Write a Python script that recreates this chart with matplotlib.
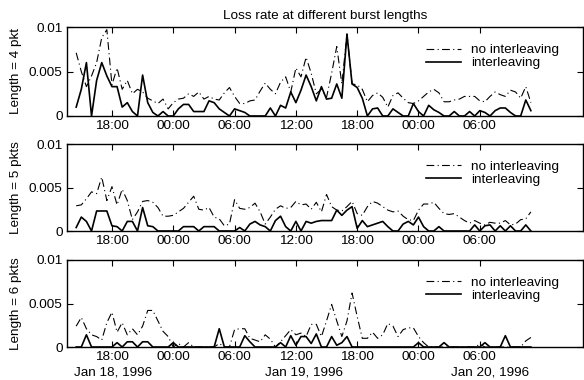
import numpy as np
import matplotlib
matplotlib.use("Agg")
import matplotlib.pyplot as plt

plt.rcParams['font.family'] = ['Liberation Sans', 'DejaVu Sans']

# sample times: hours since Jan 18, 1996 00:00 (half-hour samples)
hours = np.arange(14.5, 59.01, 0.5)

tick_hours = [18, 24, 30, 36, 42, 48, 54]
tick_labels = ["18:00", "00:00", "06:00", "12:00", "18:00", "00:00", "06:00"]
date_hours = [18.1, 36.8, 55.0]
date_labels = ["Jan 18, 1996", "Jan 19, 1996", "Jan 20, 1996"]

panel_labels = ["Length = 4 pkt", "Length = 5 pkts", "Length = 6 pkts"]
series_names = ["no interleaving", "interleaving"]

no_inter_4 = [0.0071, 0.0050, 0.0033, 0.0045, 0.0060, 0.0088, 0.0097, 0.0035, 0.0054, 0.0030,
              0.0040, 0.0025, 0.0030, 0.0027, 0.0020, 0.0017, 0.0014, 0.0019, 0.0008, 0.0015,
              0.0019, 0.0020, 0.0025, 0.0022, 0.0027, 0.0019, 0.0022, 0.0019, 0.0018, 0.0026,
              0.0032, 0.0022, 0.0014, 0.0014, 0.0017, 0.0018, 0.0028, 0.0037, 0.0030, 0.0025,
              0.0038, 0.0044, 0.0027, 0.0054, 0.0044, 0.0066, 0.0048, 0.0025, 0.0030, 0.0021,
              0.0048, 0.0078, 0.0036, 0.0092, 0.0036, 0.0035, 0.0030, 0.0016, 0.0023, 0.0026,
              0.0021, 0.0010, 0.0023, 0.0026, 0.0020, 0.0015, 0.0014, 0.0017, 0.0022, 0.0027,
              0.0030, 0.0026, 0.0016, 0.0016, 0.0018, 0.0019, 0.0022, 0.0022, 0.0022, 0.0017,
              0.0016, 0.0022, 0.0027, 0.0024, 0.0022, 0.0029, 0.0027, 0.0020, 0.0033, 0.0015]
inter_4 = [0.0010, 0.0030, 0.0060, 0.0000, 0.0040, 0.0060, 0.0045, 0.0033, 0.0033, 0.0010,
           0.0015, 0.0005, 0.0000, 0.0046, 0.0015, 0.0004, 0.0000, 0.0005, 0.0000, 0.0000,
           0.0008, 0.0013, 0.0013, 0.0005, 0.0005, 0.0005, 0.0017, 0.0015, 0.0008, 0.0004,
           0.0000, 0.0008, 0.0006, 0.0004, 0.0000, 0.0000, 0.0000, 0.0000, 0.0009, 0.0000,
           0.0012, 0.0009, 0.0027, 0.0015, 0.0029, 0.0046, 0.0033, 0.0017, 0.0033, 0.0019,
           0.0020, 0.0036, 0.0020, 0.0092, 0.0036, 0.0032, 0.0020, 0.0000, 0.0008, 0.0009,
           0.0000, 0.0000, 0.0008, 0.0004, 0.0000, 0.0000, 0.0014, 0.0005, 0.0000, 0.0012,
           0.0007, 0.0004, 0.0000, 0.0000, 0.0005, 0.0000, 0.0000, 0.0005, 0.0000, 0.0006,
           0.0004, 0.0000, 0.0006, 0.0009, 0.0009, 0.0004, 0.0000, 0.0000, 0.0018, 0.0006]

no_inter_5 = [0.0029, 0.0030, 0.0037, 0.0045, 0.0043, 0.0062, 0.0035, 0.0051, 0.0030, 0.0048,
              0.0035, 0.0013, 0.0022, 0.0034, 0.0035, 0.0033, 0.0027, 0.0017, 0.0017, 0.0018,
              0.0022, 0.0026, 0.0033, 0.0040, 0.0025, 0.0024, 0.0027, 0.0016, 0.0014, 0.0006,
              0.0008, 0.0036, 0.0026, 0.0025, 0.0027, 0.0032, 0.0022, 0.0008, 0.0016, 0.0025,
              0.0029, 0.0026, 0.0027, 0.0034, 0.0030, 0.0031, 0.0025, 0.0033, 0.0022, 0.0042,
              0.0028, 0.0024, 0.0023, 0.0028, 0.0034, 0.0020, 0.0018, 0.0028, 0.0034, 0.0032,
              0.0028, 0.0024, 0.0022, 0.0023, 0.0017, 0.0013, 0.0012, 0.0024, 0.0031, 0.0031,
              0.0033, 0.0026, 0.0020, 0.0019, 0.0020, 0.0016, 0.0012, 0.0009, 0.0012, 0.0009,
              0.0007, 0.0010, 0.0009, 0.0009, 0.0012, 0.0007, 0.0008, 0.0013, 0.0014, 0.0022]
inter_5 = [0.0004, 0.0016, 0.0011, 0.0000, 0.0023, 0.0023, 0.0023, 0.0006, 0.0005, 0.0000,
           0.0011, 0.0011, 0.0000, 0.0027, 0.0006, 0.0005, 0.0000, 0.0000, 0.0000, 0.0000,
           0.0000, 0.0005, 0.0005, 0.0005, 0.0000, 0.0005, 0.0005, 0.0005, 0.0000, 0.0000,
           0.0000, 0.0000, 0.0004, 0.0000, 0.0008, 0.0011, 0.0007, 0.0005, 0.0000, 0.0012,
           0.0017, 0.0005, 0.0000, 0.0011, 0.0000, 0.0011, 0.0009, 0.0011, 0.0012, 0.0012,
           0.0012, 0.0024, 0.0018, 0.0024, 0.0028, 0.0003, 0.0012, 0.0005, 0.0007, 0.0009,
           0.0011, 0.0005, 0.0000, 0.0000, 0.0008, 0.0011, 0.0007, 0.0016, 0.0005, 0.0000,
           0.0000, 0.0005, 0.0000, 0.0000, 0.0000, 0.0000, 0.0000, 0.0000, 0.0007, 0.0000,
           0.0006, 0.0007, 0.0000, 0.0006, 0.0000, 0.0006, 0.0000, 0.0000, 0.0007, 0.0000]

no_inter_6 = [0.0024, 0.0034, 0.0021, 0.0014, 0.0012, 0.0008, 0.0028, 0.0040, 0.0017, 0.0028,
              0.0014, 0.0021, 0.0014, 0.0024, 0.0042, 0.0042, 0.0030, 0.0018, 0.0012, 0.0000,
              0.0004, 0.0000, 0.0005, 0.0000, 0.0000, 0.0000, 0.0000, 0.0000, 0.0004, 0.0000,
              0.0000, 0.0020, 0.0021, 0.0021, 0.0010, 0.0008, 0.0006, 0.0014, 0.0009, 0.0000,
              0.0006, 0.0013, 0.0020, 0.0014, 0.0016, 0.0012, 0.0026, 0.0026, 0.0012, 0.0030,
              0.0049, 0.0030, 0.0012, 0.0030, 0.0062, 0.0035, 0.0010, 0.0010, 0.0017, 0.0010,
              0.0014, 0.0027, 0.0024, 0.0012, 0.0020, 0.0022, 0.0022, 0.0012, 0.0005, 0.0000,
              0.0000, 0.0000, 0.0000, 0.0000, 0.0000, 0.0000, 0.0000, 0.0000, 0.0000, 0.0003,
              0.0000, 0.0000, 0.0000, 0.0000, 0.0000, 0.0000, 0.0000, 0.0000, 0.0007, 0.0011]
inter_6 = [0.0000, 0.0000, 0.0014, 0.0000, 0.0000, 0.0000, 0.0000, 0.0000, 0.0005, 0.0000,
           0.0006, 0.0006, 0.0000, 0.0006, 0.0006, 0.0000, 0.0000, 0.0000, 0.0000, 0.0005,
           0.0000, 0.0000, 0.0000, 0.0000, 0.0000, 0.0000, 0.0000, 0.0000, 0.0021, 0.0000,
           0.0000, 0.0000, 0.0000, 0.0013, 0.0006, 0.0000, 0.0000, 0.0000, 0.0000, 0.0000,
           0.0005, 0.0000, 0.0013, 0.0002, 0.0012, 0.0012, 0.0004, 0.0015, 0.0000, 0.0000,
           0.0012, 0.0002, 0.0005, 0.0012, 0.0000, 0.0000, 0.0000, 0.0000, 0.0000, 0.0000,
           0.0000, 0.0000, 0.0000, 0.0000, 0.0000, 0.0000, 0.0000, 0.0005, 0.0000, 0.0000,
           0.0000, 0.0000, 0.0005, 0.0000, 0.0000, 0.0000, 0.0000, 0.0000, 0.0000, 0.0000,
           0.0005, 0.0000, 0.0000, 0.0000, 0.0013, 0.0000, 0.0000, 0.0000, 0.0000, 0.0000]

panels = [(no_inter_4, inter_4), (no_inter_5, inter_5), (no_inter_6, inter_6)]

FS = 9.7
W, H = 584, 380
fig = plt.figure(figsize=(W / 100, H / 100), dpi=100)
left_px, right_px = 67, 583
boxes = [(27, 116), (144, 231), (260, 347)]

axes = []
for (top, bot), (nv, iv), lab in zip(boxes, panels, panel_labels):
    ax = fig.add_axes([left_px / W, 1 - bot / H, (right_px - left_px) / W, (bot - top) / H])
    ax.plot(hours, nv, color='black', lw=0.8, linestyle=(0, (7, 3, 1, 3)), label=series_names[0])
    ax.plot(hours, iv, color='black', lw=1.2, linestyle='-', label=series_names[1])
    ax.set_xlim(13.6, 64.1)
    ax.set_ylim(0, 0.01)
    ax.set_xticks(tick_hours)
    ax.set_xticklabels(tick_labels)
    ax.set_yticks([0, 0.005, 0.01])
    ax.set_yticklabels(["0", "0.005", "0.01"])
    ax.tick_params(direction='in', top=True, right=True, length=4, width=0.8,
                   labelsize=FS, pad=3)
    for s in ax.spines.values():
        s.set_linewidth(1.0)
    ax.set_ylabel(lab, fontsize=FS)
    ax.yaxis.set_label_coords(-0.087, 0.5)
    ax.legend(loc='upper left', bbox_to_anchor=(0.695, 0.81), frameon=False,
              fontsize=FS, handlelength=2.6, handletextpad=0.8, labelspacing=0.05,
              borderpad=0, borderaxespad=0)
    axes.append(ax)

axes[0].set_title("Loss rate at different burst lengths", fontsize=FS, pad=6)

ax3 = axes[2]
for h, t in zip(date_hours, date_labels):
    ax3.text(h, -0.29, t, transform=ax3.get_xaxis_transform(), ha='center', va='center',
             fontsize=FS)

fig.savefig("out.png", dpi=100)
